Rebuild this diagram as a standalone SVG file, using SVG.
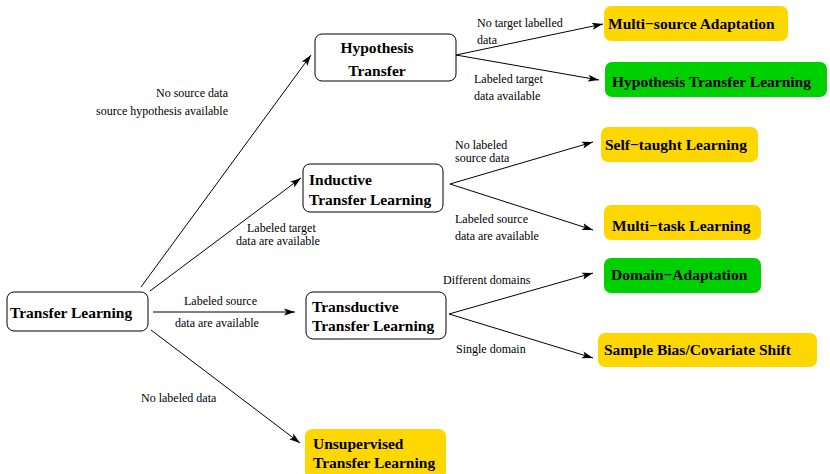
<svg xmlns="http://www.w3.org/2000/svg" width="830" height="474" viewBox="0 0 830 474">
<style>
.box{fill:#fff;stroke:#000;stroke-width:1}
.y{fill:#ffd700;stroke:none}
.g{fill:#00d000;stroke:none}
.t{font-family:"Liberation Serif","Times New Roman",serif;font-weight:bold;font-size:15.5px;fill:#000}
.l{font-family:"Liberation Serif","Times New Roman",serif;font-size:12px;fill:#000}
.c line{stroke:#000;stroke-width:1;marker-end:url(#ah)}
</style>
<defs>
<marker id="ah" markerUnits="userSpaceOnUse" markerWidth="12" markerHeight="8" refX="11" refY="4" orient="auto">
<path d="M0,0.5 L11,4 L0,7.5 L2.5,4 z" fill="#000"/>
</marker>
</defs>
<g class="c" id="connectors">
<line x1="141" y1="287" x2="311" y2="55"/>
<line x1="150" y1="291" x2="301" y2="178"/>
<line x1="153" y1="312" x2="295" y2="312"/>
<line x1="151" y1="330" x2="300" y2="443"/>
<line x1="456" y1="55" x2="603" y2="24"/>
<line x1="456" y1="55" x2="599" y2="80"/>
<line x1="450" y1="184" x2="593" y2="142"/>
<line x1="450" y1="184" x2="593" y2="230"/>
<line x1="449" y1="314" x2="593" y2="273"/>
<line x1="449" y1="314" x2="593" y2="358"/>
</g>
<g id="labels">
<text class="l" x="228" y="97" text-anchor="end">No source data</text>
<text class="l" x="228" y="115" text-anchor="end">source hypothesis available</text>
<text class="l" x="247" y="232">Labeled target</text>
<text class="l" x="236" y="245">data are available</text>
<text class="l" x="184" y="305">Labeled source</text>
<text class="l" x="175" y="327">data are available</text>
<text class="l" x="141" y="402">No labeled data</text>
<text class="l" x="477" y="27">No target labelled</text>
<text class="l" x="477" y="44">data</text>
<text class="l" x="474" y="83">Labeled target</text>
<text class="l" x="474" y="100">data available</text>
<text class="l" x="455" y="149">No labeled</text>
<text class="l" x="455" y="162">source data</text>
<text class="l" x="455" y="223">Labeled source</text>
<text class="l" x="455" y="240">data are available</text>
<text class="l" x="443" y="284">Different domains</text>
<text class="l" x="456" y="353">Single domain</text>
</g>
<g id="transfer-learning">
<rect class="box" x="7" y="292" width="141" height="39" rx="7"/>
<text class="t" x="10" y="318">Transfer Learning</text>
</g>
<g id="hypothesis-transfer">
<rect class="box" x="315" y="34" width="141" height="47" rx="7"/>
<text class="t" x="377" y="53" text-anchor="middle">Hypothesis</text>
<text class="t" x="377" y="76" text-anchor="middle">Transfer</text>
</g>
<g id="inductive">
<rect class="box" x="303" y="164" width="140" height="48" rx="7"/>
<text class="t" x="309" y="185">Inductive</text>
<text class="t" x="309" y="205">Transfer Learning</text>
</g>
<g id="transductive">
<rect class="box" x="306" y="292" width="140" height="47" rx="7"/>
<text class="t" x="312" y="312">Transductive</text>
<text class="t" x="312" y="331">Transfer Learning</text>
</g>
<g id="unsupervised">
<rect class="y" x="305" y="429" width="141" height="50" rx="7"/>
<text class="t" x="313" y="449">Unsupervised</text>
<text class="t" x="313" y="468">Transfer Learning</text>
</g>
<g id="multi-source">
<rect class="y" x="604" y="6" width="184" height="35" rx="7"/>
<text class="t" x="608" y="29">Multi−source Adaptation</text>
</g>
<g id="htl">
<rect class="g" x="605" y="62" width="222" height="35" rx="7"/>
<text class="t" x="612" y="87">Hypothesis Transfer Learning</text>
</g>
<g id="self-taught">
<rect class="y" x="601" y="127" width="157" height="35" rx="7"/>
<text class="t" x="605" y="150">Self−taught Learning</text>
</g>
<g id="multi-task">
<rect class="y" x="604" y="205" width="157" height="35" rx="7"/>
<text class="t" x="612" y="231">Multi−task Learning</text>
</g>
<g id="domain-adaptation">
<rect class="g" x="604" y="258" width="157" height="35" rx="7"/>
<text class="t" x="611" y="280">Domain−Adaptation</text>
</g>
<g id="sample-bias">
<rect class="y" x="598" y="333" width="219" height="34" rx="7"/>
<text class="t" x="604" y="355">Sample Bias/Covariate Shift</text>
</g>
</svg>
